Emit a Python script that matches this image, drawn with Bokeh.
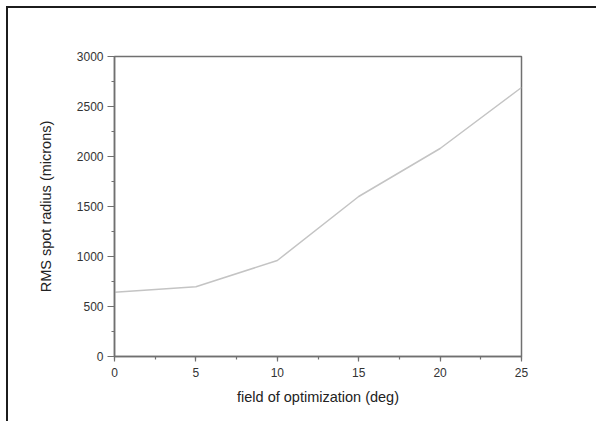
from bokeh.plotting import figure
from bokeh.models import Range1d, SingleIntervalTicker
from bokeh.embed import file_html
from bokeh.resources import INLINE

# data
field_deg = [0, 5, 10, 15, 20, 25]
rms_radius = [642, 698, 960, 1600, 2080, 2690]

x_label = "field of optimization (deg)"
y_label = "RMS spot radius (microns)"

FONT = "Liberation Sans"
AXIS_COL = "#707070"
TEXT_COL = "#333333"

W, H = 590, 415
p = figure(width=W, height=H, output_backend="svg", toolbar_location=None,
           x_range=Range1d(0, 25), y_range=Range1d(0, 3000),
           min_border_left=106, min_border_right=W - 106 - 407,
           min_border_top=48, min_border_bottom=H - 48 - 300)

# page frame: dark edge on top and left, as in the reference
p.styles = {"margin-left": "6px", "margin-top": "6px",
            "border-top": "2px solid #1c1c1c", "border-left": "2px solid #1c1c1c"}

p.line(field_deg, rms_radius, line_color="#c4c4c4", line_width=1.5)

p.xgrid.visible = False
p.ygrid.visible = False
p.background_fill_color = "white"
p.border_fill_color = "white"
p.outline_line_color = AXIS_COL
p.outline_line_width = 1.5

p.xaxis.ticker = SingleIntervalTicker(interval=5, num_minor_ticks=2)
p.yaxis.ticker = SingleIntervalTicker(interval=500, num_minor_ticks=2)

for ax in (p.xaxis[0], p.yaxis[0]):
    ax.axis_line_color = AXIS_COL
    ax.axis_line_width = 1.5
    ax.major_tick_line_color = AXIS_COL
    ax.minor_tick_line_color = AXIS_COL
    ax.major_tick_line_width = 1.2
    ax.minor_tick_line_width = 1.2
    ax.major_tick_in = 0
    ax.minor_tick_in = 0
    ax.major_label_text_font = FONT
    ax.major_label_text_font_size = "12px"
    ax.major_label_text_color = TEXT_COL
    ax.axis_label_text_font = FONT
    ax.axis_label_text_font_size = "14.5px"
    ax.axis_label_text_font_style = "normal"
    ax.axis_label_text_color = "#222222"

p.xaxis.major_tick_out = 5
p.xaxis.minor_tick_out = 3
p.xaxis.major_label_standoff = 6
p.xaxis.axis_label = x_label
p.xaxis.axis_label_standoff = 9

p.yaxis.major_tick_out = 7
p.yaxis.minor_tick_out = 3
p.yaxis.major_label_standoff = 4
p.yaxis.axis_label = y_label
p.yaxis.axis_label_standoff = 20

open("out.html", "w").write(file_html(p, INLINE))
